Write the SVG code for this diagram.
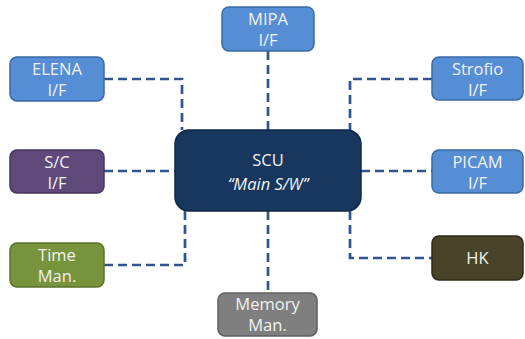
<svg xmlns="http://www.w3.org/2000/svg" width="525" height="339" viewBox="0 0 525 339">
<style>
.n{stroke-width:1.5}
.b{fill:#558ED5;stroke:#3A6AA5}
.t{font-family:"Open Sans","Liberation Sans",sans-serif;font-size:16.5px;fill:#F2F2F2;text-anchor:middle}
.c{fill:none;stroke:#2F5690;stroke-width:2.7;stroke-dasharray:9 5}
</style>
<rect width="525" height="339" fill="#FFFFFF"/>
<g id="connectors">
<path class="c" d="M104,79 H182 V130"/>
<path class="c" d="M268,51 V130"/>
<path class="c" d="M432,79 H350 V130"/>
<path class="c" d="M104,171 H175"/>
<path class="c" d="M361,171 H432"/>
<path class="c" d="M185,211 V265 H104"/>
<path class="c" d="M350,211 V258 H432"/>
<path class="c" d="M268,211 V293"/>
</g>
<g id="scu">
<rect x="175" y="130" width="186" height="81" rx="14" fill="#17375E" stroke="#10294A" stroke-width="1.5"/>
<text class="t" x="268" y="166">SCU</text>
<text class="t" x="268" y="190" font-style="italic" font-size="18.5px">“Main S/W”</text>
</g>
<g id="mipa">
<rect class="n b" x="222" y="7" width="92" height="44" rx="7"/>
<text class="t" x="268" y="25">MIPA</text>
<text class="t" x="268" y="46">I/F</text>
</g>
<g id="elena">
<rect class="n b" x="10" y="57" width="94" height="44" rx="7"/>
<text class="t" x="57" y="75">ELENA</text>
<text class="t" x="57" y="96">I/F</text>
</g>
<g id="strofio">
<rect class="n b" x="432" y="57" width="91" height="43" rx="7"/>
<text class="t" x="477.5" y="75">Strofio</text>
<text class="t" x="477.5" y="96">I/F</text>
</g>
<g id="sc">
<rect class="n" x="10" y="150" width="94" height="43" rx="7" fill="#5F497A" stroke="#46365C"/>
<text class="t" x="57" y="168">S/C</text>
<text class="t" x="57" y="189">I/F</text>
</g>
<g id="picam">
<rect class="n b" x="432" y="150" width="91" height="43" rx="7"/>
<text class="t" x="477.5" y="168">PICAM</text>
<text class="t" x="477.5" y="189">I/F</text>
</g>
<g id="time">
<rect class="n" x="10" y="243" width="94" height="44" rx="7" fill="#77933C" stroke="#5B712D"/>
<text class="t" x="57" y="261">Time</text>
<text class="t" x="57" y="282">Man.</text>
</g>
<g id="hk">
<rect class="n" x="432" y="236" width="91" height="44" rx="7" fill="#494429" stroke="#2E2A19"/>
<text class="t" x="477.5" y="264">HK</text>
</g>
<g id="memory">
<rect class="n" x="218" y="293" width="99" height="43" rx="7" fill="#7F7F7F" stroke="#5F5F5F"/>
<text class="t" x="267.5" y="310">Memory</text>
<text class="t" x="267.5" y="331">Man.</text>
</g>
</svg>
